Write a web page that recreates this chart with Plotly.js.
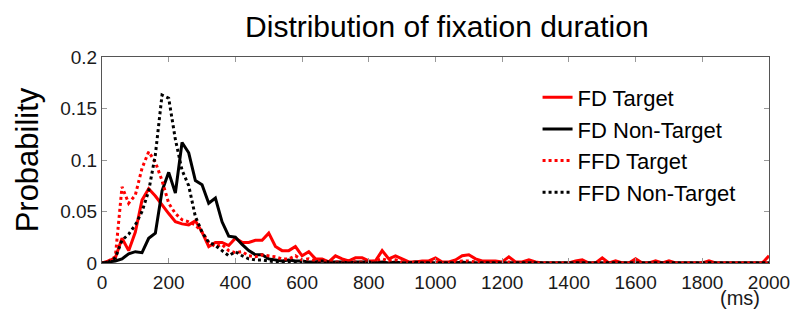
<!DOCTYPE html>
<html>
<head>
<meta charset="utf-8">
<script src="https://cdn.plot.ly/plotly-3.0.1.min.js"></script>
<style>html,body{margin:0;padding:0;background:#fff;}#chart{width:794px;height:313px;}</style>
</head>
<body>
<div id="chart"></div>
<script>
// Bin positions (ms)
const durationMs = [
  0, 20, 40, 60, 80, 100, 120, 140, 160, 180,
  200, 220, 240, 260, 280, 300, 320, 340, 360, 380,
  400, 420, 440, 460, 480, 500, 520, 540, 560, 580,
  600, 620, 640, 660, 680, 700, 720, 740, 760, 780,
  800, 820, 840, 860, 880, 900, 920, 940, 960, 980,
  1000, 1020, 1040, 1060, 1080, 1100, 1120, 1140, 1160, 1180,
  1200, 1220, 1240, 1260, 1280, 1300, 1320, 1340, 1360, 1380,
  1400, 1420, 1440, 1460, 1480, 1500, 1520, 1540, 1560, 1580,
  1600, 1620, 1640, 1660, 1680, 1700, 1720, 1740, 1760, 1780,
  1800, 1820, 1840, 1860, 1880, 1900, 1920, 1940, 1960, 1980,
  2000
];

const fdTarget = [
  0, 0.002, 0.005, 0.024, 0.012, 0.030, 0.061, 0.072, 0.065, 0.056,
  0.048, 0.040, 0.038, 0.037, 0.041, 0.030, 0.016, 0.020, 0.020, 0.017,
  0.024, 0.020, 0.020, 0.022, 0.022, 0.029, 0.016, 0.012, 0.012, 0.016,
  0.007, 0.011, 0.004, 0.004, 0.001, 0.007, 0.004, 0.002, 0.005, 0.005,
  0.002, 0.002, 0.012, 0.004, 0.007, 0.004, 0.001, 0.001, 0.002, 0.002,
  0.005, 0.001, 0.001, 0.003, 0.007, 0.008, 0.004, 0.002, 0.002, 0.002,
  0.001, 0.006, 0.001, 0.001, 0.003, 0.001, 0, 0, 0, 0,
  0, 0.002, 0.003, 0, 0, 0.005, 0, 0.002, 0, 0,
  0.004, 0, 0, 0.002, 0, 0.002, 0, 0, 0, 0,
  0, 0.002, 0, 0, 0, 0, 0, 0, 0, 0,
  0.007
];

const fdNonTarget = [
  0, 0.001, 0.002, 0.004, 0.009, 0.011, 0.010, 0.024, 0.029, 0.070,
  0.088, 0.068, 0.117, 0.107, 0.080, 0.076, 0.058, 0.063, 0.040, 0.026,
  0.025, 0.018, 0.012, 0.008, 0.008, 0.004, 0.003, 0.002, 0.003, 0.002,
  0.002, 0.001, 0.001, 0.002, 0.001, 0.001, 0.001, 0, 0.001, 0.001,
  0.001, 0, 0.001, 0, 0.001, 0, 0, 0.001, 0, 0,
  0, 0, 0, 0, 0.001, 0, 0, 0, 0, 0,
  0, 0, 0, 0, 0, 0, 0, 0, 0, 0,
  0, 0, 0, 0, 0, 0, 0, 0, 0, 0,
  0, 0, 0, 0, 0, 0, 0, 0, 0, 0,
  0, 0, 0, 0, 0, 0, 0, 0, 0, 0,
  0
];

const ffdTarget = [
  0, 0.002, 0.006, 0.074, 0.058, 0.066, 0.092, 0.108, 0.098, 0.080,
  0.058, 0.048, 0.042, 0.040, 0.037, 0.030, 0.020, 0.016, 0.018, 0.012,
  0.010, 0.011, 0.007, 0.006, 0.008, 0.007, 0.006, 0.004, 0.004, 0.007,
  0.003, 0.004, 0.002, 0.001, 0.002, 0.001, 0.001, 0.002, 0.001, 0.001,
  0.001, 0.002, 0.004, 0.002, 0.003, 0.001, 0, 0.001, 0, 0,
  0.001, 0, 0, 0.001, 0.002, 0.002, 0.001, 0, 0, 0,
  0, 0.001, 0, 0, 0, 0, 0, 0, 0, 0,
  0, 0, 0, 0, 0, 0.001, 0, 0, 0, 0,
  0, 0, 0, 0, 0, 0, 0, 0, 0, 0,
  0, 0, 0, 0, 0, 0, 0, 0, 0, 0,
  0
];

const ffdNonTarget = [
  0, 0.001, 0.005, 0.022, 0.028, 0.037, 0.050, 0.070, 0.105, 0.163,
  0.160, 0.120, 0.090, 0.075, 0.045, 0.030, 0.020, 0.017, 0.012, 0.007,
  0.011, 0.007, 0.004, 0.003, 0.003, 0.002, 0.001, 0.001, 0.001, 0,
  0, 0, 0, 0, 0, 0, 0, 0, 0, 0,
  0, 0, 0, 0, 0, 0, 0, 0, 0, 0,
  0, 0, 0, 0, 0, 0, 0, 0, 0, 0,
  0, 0, 0, 0, 0, 0, 0, 0, 0, 0,
  0, 0, 0, 0, 0, 0, 0, 0, 0, 0,
  0, 0, 0, 0, 0, 0, 0, 0, 0, 0,
  0, 0, 0, 0, 0, 0, 0, 0, 0, 0,
  0
];

const seriesNames = ["FD Target", "FD Non-Target", "FFD Target", "FFD Non-Target"];
const xTickVals = [0, 200, 400, 600, 800, 1000, 1200, 1400, 1600, 1800, 2000];
const yTickVals = [0, 0.05, 0.1, 0.15, 0.2];

const FONT = "'Liberation Sans', Arial, Helvetica, sans-serif";

const traces = [
  {x: durationMs, y: fdTarget, name: seriesNames[0], line: {color: "#ff0000", width: 3, dash: "solid"}},
  {x: durationMs, y: fdNonTarget, name: seriesNames[1], line: {color: "#000000", width: 3, dash: "solid"}},
  {x: durationMs, y: ffdTarget, name: seriesNames[2], line: {color: "#ff0000", width: 3, dash: "dot"}},
  {x: durationMs, y: ffdNonTarget, name: seriesNames[3], line: {color: "#000000", width: 3, dash: "dot"}}
].map(t => Object.assign({type: "scatter", mode: "lines"}, t));

const layout = {
  width: 794, height: 313,
  margin: {l: 102, r: 25, t: 57, b: 50},
  paper_bgcolor: "#ffffff", plot_bgcolor: "#ffffff",
  font: {family: FONT, color: "#1a1a1a", size: 19},
  title: {text: "Distribution of fixation duration", font: {family: FONT, size: 30, color: "#000"},
          xref: "paper", x: 0.517, xanchor: "center", yref: "container", y: 0.915, yanchor: "middle"},
  xaxis: {
    range: [0, 2000], tickvals: xTickVals, ticktext: xTickVals.map(String),
    ticks: "inside", ticklen: 5, tickcolor: "#999", tickwidth: 1,
    showline: true, linecolor: "#555", linewidth: 1, mirror: "ticks",
    showgrid: false, zeroline: false, tickfont: {size: 19, color: "#1a1a1a"},
    ticklabelstandoff: 2
  },
  yaxis: {
    range: [0, 0.2], tickvals: yTickVals, ticktext: ["0", "0.05", "0.1", "0.15", "0.2"],
    ticks: "inside", ticklen: 5, tickcolor: "#999", tickwidth: 1,
    showline: true, linecolor: "#555", linewidth: 1, mirror: "ticks",
    showgrid: false, zeroline: false, tickfont: {size: 19, color: "#1a1a1a"},
    title: {text: "Probability", font: {size: 31, color: "#000"}, standoff: 12}
  },
  legend: {
    x: 0.653, y: 0.905, xanchor: "left", yanchor: "top",
    bgcolor: "rgba(0,0,0,0)", borderwidth: 0,
    font: {size: 22, color: "#000"}, tracegroupgap: 0
  },
  annotations: [
    {text: "(ms)", xref: "paper", yref: "paper", x: 0.957, y: -0.17, xanchor: "center", yanchor: "middle",
     showarrow: false, font: {size: 20, color: "#1a1a1a"}}
  ],
  showlegend: true
};

Plotly.newPlot("chart", traces, layout, {displayModeBar: false, staticPlot: true});
</script>
</body>
</html>
